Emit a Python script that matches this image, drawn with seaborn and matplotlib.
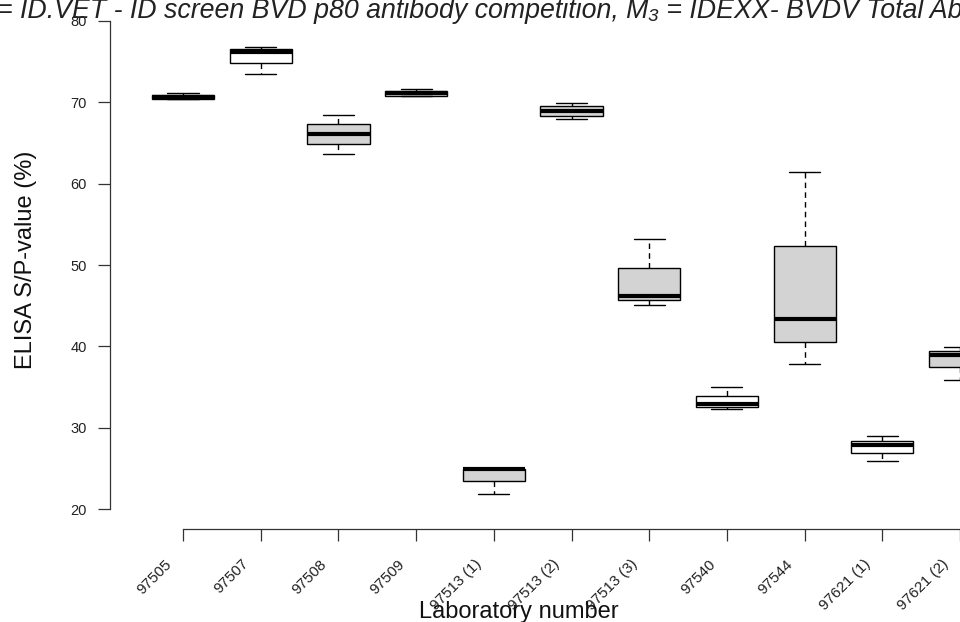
import numpy as np
import pandas as pd
import matplotlib
matplotlib.use("Agg")
import matplotlib.pyplot as plt
from matplotlib.transforms import ScaledTranslation
import seaborn as sns

# ---- data ----
labs = ["97505", "97507", "97508", "97509", "97513 (1)", "97513 (2)",
        "97513 (3)", "97540", "97544", "97621 (1)", "97621 (2)"]
whisk_lo = [70.35, 73.44, 63.64, 70.78, 21.92, 67.89, 45.04, 32.30, 37.86, 25.97, 35.93]
q1       = [70.35, 74.83, 64.86, 70.78, 23.47, 68.33, 45.66, 32.54, 40.59, 26.95, 37.44]
med      = [70.60, 76.20, 66.09, 71.05, 25.02, 68.91, 46.23, 32.95, 43.37, 27.93, 39.00]
q3       = [70.85, 76.50, 67.28, 71.30, 25.02, 69.52, 49.66, 33.97, 52.36, 28.46, 39.49]
whisk_hi = [71.08, 76.79, 68.42, 71.56, 25.02, 69.93, 53.18, 35.00, 61.43, 28.99, 39.90]
fills = ["white", "white", "#D3D3D3", "#D3D3D3", "#D3D3D3", "#D3D3D3",
         "#D3D3D3", "white", "#D3D3D3", "white", "#D3D3D3"]
yticks = [20, 30, 40, 50, 60, 70, 80]
title = "= ID.VET - ID screen BVD p80 antibody competition, M\u2083 = IDEXX- BVDV Total Ab"
xlabel = "Laboratory number"
ylabel = "ELISA S/P-value (%)"

rows = []
for lab, a, b, c, d, e in zip(labs, whisk_lo, q1, med, q3, whisk_hi):
    for v in (a, b, c, d, e):
        rows.append({"lab": lab, "val": v})
df = pd.DataFrame(rows)
pal = dict(zip(labs, fills))

sns.set_style("white")
plt.rcParams["font.family"] = ["Liberation Sans", "DejaVu Sans"]

fig = plt.figure(figsize=(9.6, 6.22), dpi=100)
ax = fig.add_axes([110 / 960, 93 / 622, 850 / 960, 528 / 622])

sns.boxplot(data=df, x="lab", y="val", hue="lab", palette=pal, order=labs,
            hue_order=labs, width=0.8, whis=(0, 100), showfliers=False,
            saturation=1, linecolor="black", linewidth=1.0, legend=False,
            medianprops={"linewidth": 3.0, "color": "black"},
            whiskerprops={"linestyle": (0, (4, 3)), "linewidth": 1.0},
            capprops={"linewidth": 1.0},
            ax=ax)

ax.set_ylim(17.6, 82.4)
ax.set_xlim(-0.94, 9.91)

axc = "#333333"
for s in ("top", "right"):
    ax.spines[s].set_visible(False)
ax.spines["left"].set_bounds(20, 80)
ax.spines["bottom"].set_bounds(0, len(labs) - 1)
for s in ("left", "bottom"):
    ax.spines[s].set_color(axc)
    ax.spines[s].set_linewidth(0.9)

ax.set_yticks(yticks)
ax.set_yticklabels([str(t) for t in yticks])
ax.tick_params(axis="y", direction="out", length=8.5, width=0.9, color=axc,
               pad=8, labelsize=10.5, labelcolor="#222222", left=True)
ax.set_xticks(range(len(labs)))
ax.set_xticklabels(labs, rotation=45, ha="right", va="center",
                   rotation_mode="anchor")
ax.tick_params(axis="x", direction="out", length=8.6, width=0.9, color=axc,
               pad=15, labelsize=11, labelcolor="#222222", bottom=True)
off = ScaledTranslation(-14 / 100, 0, fig.dpi_scale_trans)
for lbl in ax.get_xticklabels():
    lbl.set_transform(lbl.get_transform() + off)

ax.set_xlabel("")
ax.set_ylabel("")
fig.text(519 / 960, 1 - 618 / 622, xlabel, ha="center", va="baseline",
         fontsize=17, color="#111111")
fig.text(26 / 960, 1 - 260 / 622, ylabel, ha="center", va="center",
         rotation=90, fontsize=17, color="#111111")
fig.text(-3 / 960, 1 - 18 / 622, title, ha="left", va="baseline",
         fontsize=19.3, style="italic", color="#222222")

fig.savefig("out.png", dpi=100)
